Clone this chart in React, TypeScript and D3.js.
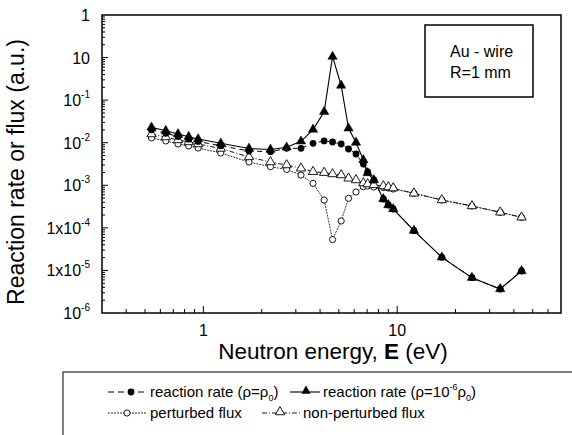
import React from 'react';
import * as d3 from 'd3';

const energy = [0.54, 0.64, 0.74, 0.84, 0.94, 1.23, 1.72, 2.22, 2.69, 3.19, 3.68, 4.2, 4.64, 5.14, 5.61, 6.13, 6.69, 7.04, 7.58, 8.48, 9.0, 9.54, 12.2, 17.0, 24.3, 34.0, 43.8];
const rateRho0 = [0.0201, 0.0167, 0.014, 0.0121, 0.0107, 0.00846, 0.00639, 0.00615, 0.00739, 0.00739, 0.00969, 0.011, 0.0104, 0.00933, 0.00712, 0.00543, 0.00316, 0.00205, 0.00133, 0.000476, 0.000344, 0.000277, 8.6e-5, 2.03e-5, 6.75e-6, 3.66e-6, 9.7e-6];
const rateRhoLow = [0.023, 0.0191, 0.016, 0.0138, 0.0122, 0.00969, 0.00731, 0.00692, 0.0078, 0.0108, 0.0204, 0.0535, 1.05, 0.221, 0.0218, 0.0101, 0.00393, 0.00194, 0.00133, 0.000476, 0.000344, 0.000277, 8.6e-5, 2.03e-5, 6.75e-6, 3.66e-6, 9.7e-6];
const perturbedFlux = [0.0129, 0.011, 0.00933, 0.00837, 0.00751, 0.00573, 0.00352, 0.00273, 0.00235, 0.00174, 0.00111, 0.000451, 5.3e-5, 0.000145, 0.000494, 0.000695, 0.000927, 0.000962, 0.000912, 0.000887, 0.000863, 0.000818, 0.000648, 0.000451, 0.000326, 0.000232, 0.000177];
const nonPerturbedFlux = [0.016, 0.0136, 0.0116, 0.0104, 0.00933, 0.00731, 0.00462, 0.00352, 0.00299, 0.00251, 0.00208, 0.00198, 0.00184, 0.00174, 0.00146, 0.00133, 0.00113, 0.00107, 0.00102, 0.00096, 0.00091, 0.00086, 0.000648, 0.000451, 0.000326, 0.000232, 0.000177];

const xDomain = [0.3, 70];
const yDomain = [1e-6, 10];
const xTickValues = [1, 10];
const xTickLabels = ['1', '10'];
const yTickValues = [10, 1, 0.1, 0.01, 0.001, 1e-4, 1e-5, 1e-6];
const yTickBase = ['1', '10', '10', '10', '10', '1x10', '1x10', '10'];
const yTickExp = ['', '', '-1', '-2', '-3', '-4', '-5', '-6'];

const FONT = 'Liberation Sans, Arial, Helvetica, sans-serif';

export default function App() {
  const left = 102, right = 561, top = 15, bottom = 313;
  const x = d3.scaleLog().domain(xDomain).range([left, right]);
  const y = d3.scaleLog().domain(yDomain).range([bottom, top]);

  const mk = (vals: number[]) =>
    d3.line<number>().x((_, i) => x(energy[i])).y((v) => y(v))(vals) || '';

  const triPath = d3.symbol().type(d3.symbolTriangle).size(38)() || '';
  const triLegend = triPath;

  const isPow10 = (v: number) => Math.abs(Math.log10(v) - Math.round(Math.log10(v))) < 1e-6;

  const xMinor = x.ticks().filter((t) => !isPow10(t) && t > xDomain[0] && t < xDomain[1]);
  const yAll = y.ticks();
  const yMinor = yAll.filter((t) => !isPow10(t));
  const yMajor = yAll.filter((t) => isPow10(t) && t > yDomain[0] && t < yDomain[1]);

  return (
    <svg width={572} height={435} style={{ position: 'absolute', left: 0, top: 0, display: 'block', background: '#fff' }} fontFamily={FONT}>
      <rect x={0} y={0} width={572} height={435} fill="#fff" />
      {/* ticks */}
      {xMinor.map((t, i) => (
        <line key={'xm' + i} x1={x(t)} x2={x(t)} y1={bottom} y2={bottom - 4} stroke="#000" strokeWidth={1} />
      ))}
      {xTickValues.map((t, i) => (
        <line key={'xM' + i} x1={x(t)} x2={x(t)} y1={bottom} y2={bottom - 7} stroke="#000" strokeWidth={1} />
      ))}
      {yMinor.map((t, i) => (
        <line key={'ym' + i} x1={left} x2={left + 3} y1={y(t)} y2={y(t)} stroke="#000" strokeWidth={1} />
      ))}
      {yMajor.map((t, i) => (
        <line key={'yM' + i} x1={left} x2={left + 6} y1={y(t)} y2={y(t)} stroke="#000" strokeWidth={1} />
      ))}
      {/* frame */}
      <rect x={left} y={top} width={right - left} height={bottom - top} fill="none" stroke="#000" strokeWidth={1.5} />

      {/* tick labels */}
      {xTickValues.map((t, i) => (
        <text key={'xl' + i} x={x(t)} y={336} textAnchor="middle" fontSize={16}>{xTickLabels[i]}</text>
      ))}
      {yTickValues.map((t, i) => (
        <text key={'yl' + i} x={90} y={y(t) + 6} textAnchor="end" fontSize={16}>
          {yTickBase[i]}
          {yTickExp[i] ? <tspan fontSize={10} dy={-8}>{yTickExp[i]}</tspan> : null}
        </text>
      ))}

      {/* axis titles */}
      <text x={333} y={359} textAnchor="middle" fontSize={22.5}>
        Neutron energy, <tspan fontWeight="bold">E</tspan> (eV)
      </text>
      <text transform="translate(24,172) rotate(-90)" textAnchor="middle" fontSize={23}>
        Reaction rate or flux (a.u.)
      </text>

      {/* series lines */}
      <path d={mk(nonPerturbedFlux)} fill="none" stroke="#000" strokeWidth={0.9} strokeDasharray="5,2,1,2" />
      <path d={mk(perturbedFlux)} fill="none" stroke="#000" strokeWidth={0.8} strokeDasharray="2,1" />
      <path d={mk(rateRho0)} fill="none" stroke="#000" strokeWidth={1} strokeDasharray="5,4" />
      <path d={mk(rateRhoLow)} fill="none" stroke="#000" strokeWidth={1.1} />

      {/* markers */}
      {perturbedFlux.map((v, i) => (
        <circle key={'pc' + i} cx={x(energy[i])} cy={y(v)} r={3.1} fill="#fff" stroke="#000" strokeWidth={0.9} />
      ))}
      {nonPerturbedFlux.map((v, i) => (
        <path key={'nt' + i} d={triPath} transform={`translate(${x(energy[i])},${y(v)})`} fill="#fff" stroke="#000" strokeWidth={0.9} />
      ))}
      {rateRho0.map((v, i) => (
        <circle key={'fc' + i} cx={x(energy[i])} cy={y(v)} r={3.4} fill="#000" />
      ))}
      {rateRhoLow.map((v, i) => (
        <path key={'ft' + i} d={triPath} transform={`translate(${x(energy[i])},${y(v)})`} fill="#000" stroke="#000" strokeWidth={0.5} />
      ))}

      {/* annotation box */}
      <rect x={425} y={25} width={108} height={72} fill="#fff" stroke="#000" strokeWidth={1.5} />
      <text x={450} y={57} fontSize={16}>Au - wire</text>
      <text x={450} y={78} fontSize={16}>R=1 mm</text>

      {/* legend */}
      <rect x={63} y={372} width={560} height={100} fill="#fff" stroke="#000" strokeWidth={1} />
      <g fontSize={15}>
        <line x1={108} x2={147} y1={392} y2={392} stroke="#000" strokeWidth={1} strokeDasharray="6,4" />
        <circle cx={131} cy={392} r={3.4} fill="#000" />
        <text x={150} y={397}>
          reaction rate (ρ=ρ<tspan fontSize={9} dy={4}>0</tspan><tspan dy={-4}>)</tspan>
        </text>
        <line x1={290} x2={320} y1={392} y2={392} stroke="#000" strokeWidth={1.1} />
        <path d={triLegend} transform="translate(306,391)" fill="#000" />
        <text x={323} y={397}>
          reaction rate (ρ=10<tspan fontSize={9} dy={-7}>-6</tspan><tspan dy={7}>ρ</tspan><tspan fontSize={9} dy={4}>0</tspan><tspan dy={-4}>)</tspan>
        </text>
        <line x1={108} x2={147} y1={413} y2={413} stroke="#000" strokeWidth={0.8} strokeDasharray="2,1" />
        <circle cx={127} cy={413} r={3.1} fill="#fff" stroke="#000" strokeWidth={0.9} />
        <text x={150} y={418}>perturbed flux</text>
        <line x1={262} x2={300} y1={413} y2={413} stroke="#000" strokeWidth={0.9} strokeDasharray="5,2,1,2" />
        <path d={triLegend} transform="translate(280,412)" fill="#fff" stroke="#000" strokeWidth={0.9} />
        <text x={303} y={418}>non-perturbed flux</text>
      </g>
    </svg>
  );
}
